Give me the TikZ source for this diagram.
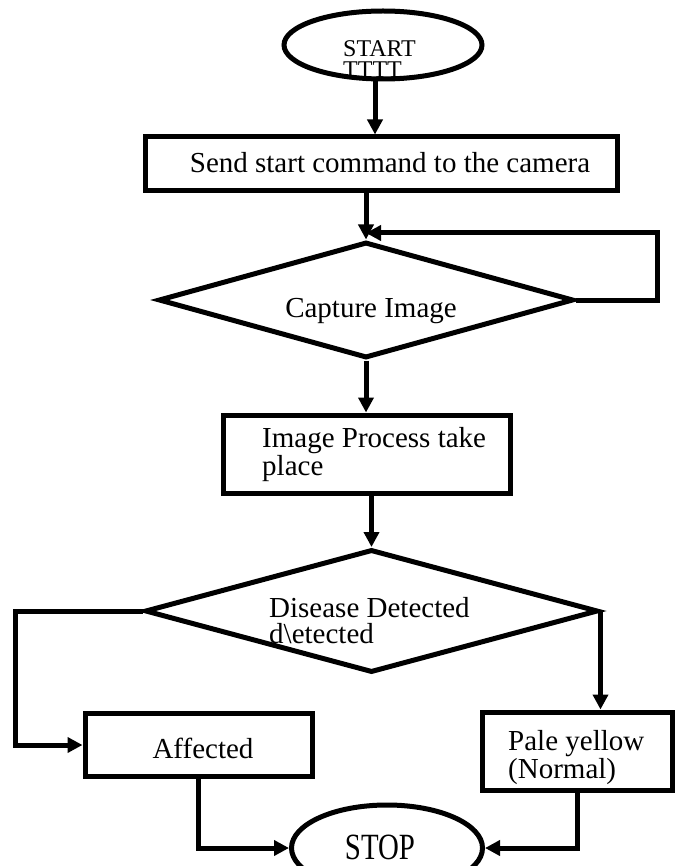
\documentclass[tikz,border=0pt]{standalone}
\usepackage{fontspec}
\setmainfont{Liberation Serif}
\newfontfamily\tallserif[FakeStretch=0.78]{Liberation Serif}
\usetikzlibrary{shapes.geometric,arrows.meta}
\begin{document}
\begin{tikzpicture}[x=1pt,y=-1pt,
  shp/.style={draw=black,line width=5pt,inner sep=0pt},
  txt/.style={font=\fontsize{29}{26}\selectfont,inner sep=0pt,align=left},
  conn/.style={line width=5pt,-{Triangle[length=15pt,width=15pt]}}]
\useasboundingbox (0,0) rectangle (675,866);
\clip (0,0) rectangle (675,866);

% START
\node[shp,ellipse,minimum width=198pt,minimum height=68pt] (start) at (383,45) {};
\node[font=\fontsize{24}{21}\selectfont,inner sep=0pt,align=left,anchor=base west] (starttxt) at (343,78) {START\\TTTT};

% Send start command
\node[shp,rectangle,minimum width=472pt,minimum height=54pt] (send) at (381,164) {};
\node[txt,anchor=base] (sendtxt) at (390,173) {Send start command to the camera};

% Capture image
\node[shp,diamond,minimum width=415pt,minimum height=116pt] (cap) at (366,300) {};
\node[txt,anchor=base] (captxt) at (371,317) {Capture Image};

% Image process
\node[shp,rectangle,minimum width=287pt,minimum height=78pt] (proc) at (366.5,454) {};
\node[txt,anchor=base west] (proctxt) at (262,475) {Image Process take\\place};

% Disease detected
\node[shp,diamond,minimum width=453pt,minimum height=123pt] (dis) at (371.5,611) {};
\node[txt,anchor=base west] (distxt) at (269,643) {Disease Detected\\d\textbackslash etected};

% Affected
\node[shp,rectangle,minimum width=227pt,minimum height=63pt] (aff) at (198.5,745) {};
\node[txt,anchor=base] (afftxt) at (203,758) {Affected};

% Pale yellow
\node[shp,rectangle,minimum width=190pt,minimum height=78pt] (pale) at (577,751) {};
\node[txt,anchor=base west] (paletxt) at (508,778) {Pale yellow\\(Normal)};

% STOP
\node[shp,ellipse,minimum width=191pt,minimum height=86pt] (stop) at (387,848) {};
\node[font=\tallserif\fontsize{37}{37}\selectfont,inner sep=0pt,anchor=base] (stoptxt) at (380,859) {STOP};

% connectors
\coordinate (loopbot) at (657,300);
\coordinate (looptop) at (657,233);
\coordinate (leftc) at (15,611);

\draw[conn] ([xshift=-8pt]start.south) -- ([xshift=-8pt]start.south |- send.north);
\draw[conn] (send.south -| cap.north) -- (cap.north);
\draw[conn] (cap.east) -- (loopbot) -- (looptop) -- (looptop -| cap.north);
\draw[conn] (cap.south) -- (cap.south |- proc.north);
\draw[conn] (proc.south -| dis.north) -- (dis.north);
\draw[conn] (dis.west) -- (leftc) |- (aff.west);
\draw[conn] (dis.east) -- (dis.east |- pale.north);
\draw[conn] (aff.south) |- (stop.west);
\draw[conn] (pale.south) |- (stop.east);
\end{tikzpicture}
\end{document}
